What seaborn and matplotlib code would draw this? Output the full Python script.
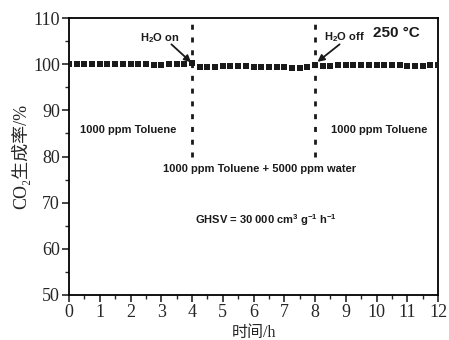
import matplotlib
matplotlib.use("Agg")
import matplotlib.pyplot as plt
import seaborn as sns
import numpy as np
import pandas as pd

# data
time_h = [0.0, 0.25, 0.5, 0.75, 1.0, 1.25, 1.5, 1.75, 2.0, 2.25, 2.5, 2.75, 3.0, 3.25, 3.5, 3.75, 4.0,
          4.25, 4.5, 4.75, 5.0, 5.25, 5.5, 5.75, 6.0, 6.25, 6.5, 6.75, 7.0, 7.25, 7.5, 7.75, 8.0,
          8.25, 8.5, 8.75, 9.0, 9.25, 9.5, 9.75, 10.0, 10.25, 10.5, 10.75, 11.0, 11.25, 11.5, 11.75, 12.0]
co2_yield = [100.1, 100.1, 100.1, 100.1, 100.1, 100.1, 100.0, 100.0, 100.0, 100.0, 100.0, 99.9, 99.9, 100.0, 100.0, 100.1, 100.2,
             99.4, 99.3, 99.4, 99.5, 99.5, 99.5, 99.6, 99.4, 99.4, 99.4, 99.4, 99.3, 99.2, 99.2, 99.4, 99.9,
             99.7, 99.7, 99.8, 99.8, 99.8, 99.9, 99.9, 99.8, 99.8, 99.8, 99.8, 99.7, 99.7, 99.7, 99.8, 99.9]
x_ticks = list(range(0, 13))
y_ticks = [50, 60, 70, 80, 90, 100, 110]

df = pd.DataFrame({"t": time_h, "y": co2_yield})

sns.set_theme(style="ticks")
plt.rcParams['font.family'] = ['Liberation Serif', 'Noto Sans CJK SC', 'DejaVu Sans']
plt.rcParams['mathtext.fontset'] = 'custom'
plt.rcParams['mathtext.rm'] = 'Liberation Sans:bold'
plt.rcParams['mathtext.bf'] = 'Liberation Sans:bold'

fig = plt.figure(figsize=(4.49, 3.40), dpi=100)
ax = fig.add_axes([0.1537, 0.1324, 0.8218, 0.8146])

sns.scatterplot(data=df, x="t", y="y", ax=ax, marker="s", s=21, color="#1a1a1a",
                edgecolor="#1a1a1a", linewidth=0, legend=False, zorder=3)

for xv in [4, 8]:
    ax.plot([xv, xv], [80, 110], linestyle=(0, (1.8, 2.8)), color="#1a1a1a", lw=2.0, zorder=2)

ax.set_xlim(0, 12)
ax.set_ylim(50, 110)
ax.set_xticks(x_ticks)
ax.set_yticks(y_ticks)
ax.set_xticks(np.arange(0.5, 12, 1), minor=True)
ax.set_yticks(np.arange(55, 110, 10), minor=True)
ax.tick_params(axis="both", which="major", direction="out", length=5, width=1.2, labelsize=13, pad=1.5)
ax.tick_params(axis="both", which="minor", direction="out", length=3, width=1.0)
ax.tick_params(top=False, right=False)
for s in ax.spines.values():
    s.set_linewidth(1.3)
    s.set_color("black")

ax.set_xlabel("时间/h", fontsize=11.5, va="bottom")
ax.xaxis.set_label_coords(0.5, -0.165)
ax.set_ylabel("CO\u2082生成率/%", fontsize=13, labelpad=2)

sans = dict(family="Liberation Sans", fontweight="bold", fontsize=8, color="#1a1a1a")
ax.text(1.92, 85.8, "1000 ppm Toluene", ha="center", va="center", **sans)
ax.text(10.1, 85.8, "1000 ppm Toluene", ha="center", va="center", **sans)
ax.text(6.2, 77.4, "1000 ppm Toluene + 5000 ppm water", ha="center", va="center", **sans)
ax.text(6.4, 66.2, "GHSV = 30 000 cm$^3$ g$^{-1}$ h$^{-1}$", ha="center", va="center", **sans)
ax.text(10.65, 106.7, "250 \u00b0C", ha="center", va="center",
        family="Liberation Sans", fontweight="bold", fontsize=11, color="#1a1a1a")

ax.text(2.95, 105.7, "H$_2$O on", ha="center", va="center", **sans)
ax.text(8.95, 105.9, "H$_2$O off", ha="center", va="center", **sans)
arrow = dict(arrowstyle="-|>", color="#1a1a1a", lw=1.3, mutation_scale=10, shrinkA=0, shrinkB=0)
ax.annotate("", xy=(3.97, 100.4), xytext=(3.33, 104.3), arrowprops=arrow)
ax.annotate("", xy=(8.08, 100.5), xytext=(8.8, 104.3), arrowprops=arrow)

fig.savefig("out.png", dpi=100)
